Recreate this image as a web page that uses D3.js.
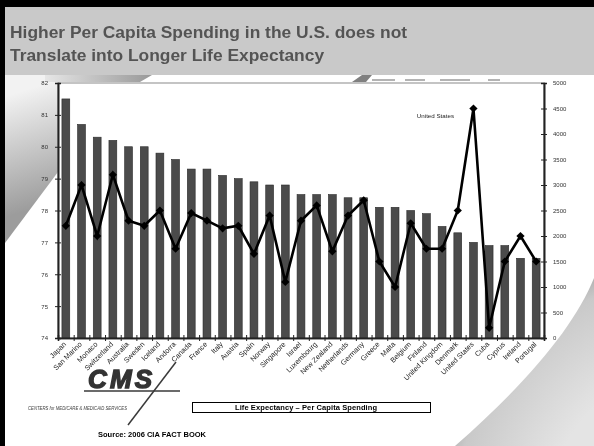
<!DOCTYPE html>
<html>
<head>
<meta charset="utf-8">
<script src="https://cdn.jsdelivr.net/npm/d3@7"></script>
<style>
  html, body { margin: 0; padding: 0; background: #fff; }
  svg { display: block; filter: grayscale(1); }
  text { font-family: "Liberation Sans", Arial, sans-serif; }
</style>
</head>
<body>
<svg id="chart" width="594" height="446"></svg>
<script>
// ---------------- DATA ----------------
const countries = ["Japan","San Marino","Monaco","Switzerland","Australia","Sweden","Iceland","Andorra",
  "Canada","France","Italy","Austria","Spain","Norway","Singapore","Israel","Luxembourg","New Zealand",
  "Netherlands","Germany","Greece","Malta","Belgium","Finland","United Kingdom","Denmark","United States",
  "Cuba","Cyprus","Ireland","Portugal"];
const lifeExpectancy = [81.5,80.7,80.3,80.2,80.0,80.0,79.8,79.6,79.3,79.3,79.1,79.0,78.9,78.8,78.8,78.5,
  78.5,78.5,78.4,78.4,78.1,78.1,78.0,77.9,77.5,77.3,77.0,76.9,76.9,76.5,76.5];
const perCapitaSpending = [2200,3000,2000,3200,2300,2200,2500,1750,2450,2300,2150,2200,1650,2400,1100,2300,
  2600,1700,2400,2700,1500,1000,2250,1750,1750,2500,4500,200,1500,2000,1500];
const leftTicks = [74,75,76,77,78,79,80,81,82];
const rightTicks = [0,500,1000,1500,2000,2500,3000,3500,4000,4500,5000];
const titleLines = ["Higher Per Capita Spending in the U.S. does not","Translate into Longer Life Expectancy"];
const legendLabel = "Life Expectancy \u2013 Per Capita Spending";
const sourceLabel = "Source: 2006 CIA  FACT BOOK";
const annotation = {country: "United States", text: "United States"};

// ---------------- LAYOUT ----------------
const svg = d3.select("#chart");
const W = 594, H = 446;
const plot = {left: 58, right: 544, top: 83, bottom: 338};

const defs = svg.append("defs");
const g1 = defs.append("linearGradient").attr("id","leftGrad")
  .attr("gradientUnits","userSpaceOnUse").attr("x1",10).attr("y1",95).attr("x2",45).attr("y2",205);
g1.append("stop").attr("offset","0").attr("stop-color","#f2f2f2");
g1.append("stop").attr("offset","1").attr("stop-color","#9c9c9c");
const g2 = defs.append("linearGradient").attr("id","topGrad")
  .attr("gradientUnits","userSpaceOnUse").attr("x1",45).attr("y1",0).attr("x2",150).attr("y2",0);
g2.append("stop").attr("offset","0").attr("stop-color","#e6e6e6");
g2.append("stop").attr("offset","1").attr("stop-color","#9a9a9a");
const g3 = defs.append("radialGradient").attr("id","swoosh")
  .attr("gradientUnits","userSpaceOnUse").attr("cx",700).attr("cy",520).attr("r",280);
g3.append("stop").attr("offset","0.55").attr("stop-color","#e4e4e4");
g3.append("stop").attr("offset","0.88").attr("stop-color","#c9c9c9");
g3.append("stop").attr("offset","1").attr("stop-color","#9e9e9e");

// background
svg.append("rect").attr("width",W).attr("height",H).attr("fill","#ffffff");

// decorative left gradient wedge
svg.append("path").attr("d","M5,75 L58,75 L58,172 L5,243 Z").attr("fill","url(#leftGrad)");
// decorative top strip
svg.append("path").attr("d","M45,75 L152,75 L140,82 L45,82 Z").attr("fill","url(#topGrad)");
svg.append("path").attr("d","M352,82 L362,75 L372,75 L366,82 Z").attr("fill","#808080");
[[372,395],[405,425],[440,470],[488,500]].forEach(([a,b]) => {
  svg.append("line").attr("x1",a).attr("x2",b).attr("y1",80).attr("y2",80)
    .attr("stroke","#9a9a9a").attr("stroke-width",1.5);
});

// bottom-right swoosh
svg.append("path")
  .attr("d","M594,278 C575,325 530,380 455,446 L594,446 Z")
  .attr("fill","url(#swoosh)");

// header band
svg.append("rect").attr("x",0).attr("y",0).attr("width",W).attr("height",75).attr("fill","#c9c9c9");
svg.append("rect").attr("x",0).attr("y",0).attr("width",W).attr("height",7).attr("fill","#000");
svg.append("rect").attr("x",0).attr("y",0).attr("width",5).attr("height",H).attr("fill","#000");

svg.append("g").selectAll("text").data(titleLines).join("text")
  .attr("x",10).attr("y",(d,i)=>37.5+i*23)
  .attr("font-size",17.4).attr("font-weight","bold").attr("fill","#545454")
  .text(d=>d);

// ---------------- SCALES ----------------
const x = d3.scaleBand().domain(countries).range([plot.left, plot.right])
  .paddingInner(0.5).paddingOuter(0.25);
const yL = d3.scaleLinear().domain([74,82]).range([plot.bottom, plot.top]);
const yR = d3.scaleLinear().domain([0,5000]).range([plot.bottom, plot.top]);

// plot frame
svg.append("rect").attr("x",plot.left).attr("y",plot.top)
  .attr("width",plot.right-plot.left).attr("height",plot.bottom-plot.top)
  .attr("fill","#fff").attr("stroke","#8a8a8a").attr("stroke-width",1);

// bars
svg.append("g").selectAll("rect").data(countries).join("rect")
  .attr("x",d=>x(d)).attr("width",x.bandwidth())
  .attr("y",(d,i)=>yL(lifeExpectancy[i]))
  .attr("height",(d,i)=>yL(74)-yL(lifeExpectancy[i]))
  .attr("fill","#4b4b4b").attr("stroke","#2a2a2a").attr("stroke-width",0.6);

// spending line
const pts = countries.map((c,i)=>[x(c)+x.bandwidth()/2, yR(perCapitaSpending[i])]);
svg.append("path").attr("d", d3.line()(pts))
  .attr("fill","none").attr("stroke","#000").attr("stroke-width",2.6).attr("stroke-linejoin","miter");
svg.append("g").selectAll("path").data(pts).join("path")
  .attr("transform",d=>`translate(${d[0]},${d[1]}) rotate(45)`)
  .attr("d", d3.symbol(d3.symbolSquare, 34)())
  .attr("fill","#000");

// annotation
svg.append("text")
  .attr("x", x(annotation.country)+x.bandwidth()/2 - 38).attr("y", 118)
  .attr("text-anchor","middle").attr("font-size",6.2).attr("fill","#222")
  .text(annotation.text);

// ---------------- AXES ----------------
svg.append("g").attr("transform",`translate(${plot.left},0)`)
  .call(d3.axisLeft(yL).tickValues(leftTicks).tickSize(3).tickPadding(7).tickFormat(d3.format("d")));
svg.append("g").attr("transform",`translate(${plot.left},0)`)
  .call(d3.axisRight(yL).tickValues(leftTicks).tickSize(3).tickFormat(""));
svg.append("g").attr("transform",`translate(${plot.right},0)`)
  .call(d3.axisRight(yR).tickValues(rightTicks).tickSize(3).tickPadding(6).tickFormat(d3.format("d")));
svg.append("g").attr("transform",`translate(${plot.right},0)`)
  .call(d3.axisLeft(yR).tickValues(rightTicks).tickSize(3).tickFormat(""));

// x axis with ticks at band boundaries
const boundaries = d3.range(countries.length+1).map(i => plot.left + i*x.step());
const xb = d3.scaleLinear().domain([plot.left, plot.right]).range([plot.left, plot.right]);
svg.append("g").attr("transform",`translate(0,${plot.bottom})`)
  .call(d3.axisBottom(xb).tickValues(boundaries).tickSize(3).tickFormat(""));
svg.append("g").attr("transform",`translate(0,${plot.bottom})`)
  .call(d3.axisTop(xb).tickValues(boundaries).tickSize(3).tickFormat(""));

svg.selectAll(".domain").attr("stroke","#222").attr("stroke-width",1.6);
svg.selectAll(".tick line").attr("stroke","#222").attr("stroke-width",1);
svg.selectAll(".tick text").attr("font-size",6).attr("fill","#333");

// x labels
svg.append("g").selectAll("text").data(countries).join("text")
  .attr("transform",d=>`translate(${x(d)+x.bandwidth()/2 - 1},${plot.bottom+5}) rotate(-45)`)
  .attr("text-anchor","end").attr("dy","0.35em")
  .attr("font-size",7.2).attr("fill","#222")
  .text(d=>d);

// ---------------- LOGO / LEGEND / SOURCE ----------------
svg.append("text").attr("x",88).attr("y",388)
  .attr("font-size",26).attr("font-weight","900").attr("font-style","italic")
  .attr("fill","#333").attr("stroke","#333").attr("stroke-width",1.4)
  .attr("textLength",64).text("CMS");
svg.append("line").attr("x1",84).attr("x2",180).attr("y1",391).attr("y2",391)
  .attr("stroke","#3a3a3a").attr("stroke-width",1.5);
svg.append("line").attr("x1",176).attr("x2",128).attr("y1",362).attr("y2",425)
  .attr("stroke","#3a3a3a").attr("stroke-width",1.5);
svg.append("text").attr("x",28).attr("y",410)
  .attr("font-size",5.2).attr("font-style","italic").attr("fill","#444")
  .attr("textLength",99).attr("lengthAdjust","spacingAndGlyphs")
  .text("CENTERS for MEDICARE & MEDICAID SERVICES");

svg.append("rect").attr("x",192.5).attr("y",402.5).attr("width",238).attr("height",10)
  .attr("fill","#fff").attr("stroke","#000").attr("stroke-width",1);
svg.append("text").attr("x",306).attr("y",410.3).attr("text-anchor","middle")
  .attr("font-size",7.5).attr("font-weight","bold").attr("fill","#000")
  .attr("textLength",142).text(legendLabel);

svg.append("text").attr("x",98).attr("y",437)
  .attr("font-size",7.5).attr("font-weight","bold").attr("fill","#000")
  .attr("textLength",108).text(sourceLabel);
</script>
</body>
</html>
